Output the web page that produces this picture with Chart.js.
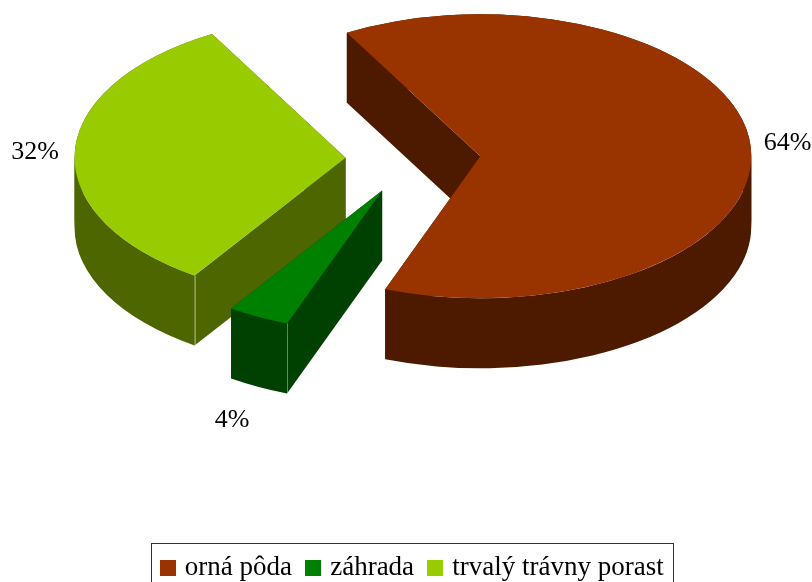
<!DOCTYPE html>
<html>
<head>
<meta charset="utf-8">
<style>html,body{margin:0;padding:0;background:#fff}canvas{display:block}</style>
<script src="https://cdn.jsdelivr.net/npm/chart.js@4"></script>
</head>
<body>
<canvas id="c" width="812" height="582"></canvas>
<script>
const categories = ['orná pôda', 'záhrada', 'trvalý trávny porast'];
const values = [63.9, 3.7, 32.4];
const percentLabels = ['64%', '4%', '32%'];
const topColors = ['#993300', '#008000', '#99CC00'];
const sideColors = ['#4D1A00', '#004000', '#4D6600'];
const labelAnchors = [[787.5, 143], [232, 420], [35, 152]];
const paintOrder = [0, 2, 1];

const RADIUS = 271, SQUASH = 0.524, DEPTH = 70, EXPLODE = 67.5, CENTER_X = 413, CENTER_Y = 159;
const FONT = '"Liberation Serif", "Times New Roman", serif';
const LABEL_SIZE = 26, LEGEND_SIZE = 27;

function swatch(color) {
  const s = document.createElement('canvas');
  s.width = 16; s.height = 16;
  const g = s.getContext('2d');
  g.fillStyle = color; g.fillRect(0, 0, 16, 16);
  return s;
}

const pie3d = {
  id: 'pie3d',
  beforeDatasetsDraw(chart) {
    const ctx = chart.ctx, arcs = chart.getDatasetMeta(0).data;
    paintOrder.forEach(i => {
      const a = arcs[i], mid = (a.startAngle + a.endAngle) / 2;
      const r = a.outerRadius, ry = r * SQUASH;
      const cx = CENTER_X + Math.cos(mid) * EXPLODE;
      const cy = CENTER_Y + Math.sin(mid) * EXPLODE * SQUASH;
      const rim = t => [cx + Math.cos(t) * r, cy + Math.sin(t) * ry];
      const quad = t => {
        const [x, y] = rim(t);
        ctx.beginPath();
        ctx.moveTo(cx, cy); ctx.lineTo(x, y);
        ctx.lineTo(x, y + DEPTH); ctx.lineTo(cx, cy + DEPTH);
        ctx.closePath(); ctx.fill();
      };
      ctx.save();
      ctx.fillStyle = sideColors[i];
      quad(a.startAngle); quad(a.endAngle);
      // outer wall, split where the rim turns vertical so the sweep has no notch
      const stops = [a.startAngle];
      for (let k = Math.ceil(a.startAngle / Math.PI); k * Math.PI < a.endAngle; k++) stops.push(k * Math.PI);
      stops.push(a.endAngle);
      for (let s = 0; s + 1 < stops.length; s++) {
        ctx.beginPath();
        ctx.ellipse(cx, cy, r, ry, 0, stops[s], stops[s + 1]);
        ctx.ellipse(cx, cy + DEPTH, r, ry, 0, stops[s + 1], stops[s], true);
        ctx.closePath(); ctx.fill();
      }
      if (i !== 0) {
        const [x, y] = rim(a.startAngle);
        ctx.strokeStyle = 'rgba(255,255,255,0.35)';
        ctx.lineWidth = 1;
        ctx.beginPath();
        ctx.moveTo(Math.round(x) + 0.5, y); ctx.lineTo(Math.round(x) + 0.5, y + DEPTH);
        ctx.stroke();
      }
      ctx.fillStyle = topColors[i];
      ctx.beginPath();
      ctx.moveTo(cx, cy);
      ctx.ellipse(cx, cy, r, ry, 0, a.startAngle, a.endAngle);
      ctx.closePath(); ctx.fill();
      ctx.restore();
    });
    return false;
  },
  afterDraw(chart) {
    const ctx = chart.ctx, boxes = chart.legend.legendHitBoxes;
    ctx.save();
    ctx.fillStyle = '#000';
    ctx.font = LABEL_SIZE + 'px ' + FONT;
    ctx.textAlign = 'center';
    ctx.textBaseline = 'middle';
    percentLabels.forEach((t, i) => ctx.fillText(t, labelAnchors[i][0], labelAnchors[i][1]));
    const first = boxes[0], last = boxes[boxes.length - 1];
    const left = first.left - 13.5, right = last.left + last.width + 9.5, top = first.top - 11;
    ctx.strokeStyle = '#333';
    ctx.lineWidth = 1;
    ctx.strokeRect(Math.round(left) + 0.5, Math.round(top) + 0.5, Math.round(right - left), 60);
    ctx.restore();
  }
};

new Chart(document.getElementById('c'), {
  type: 'pie',
  data: {
    labels: categories,
    datasets: [{ data: values, backgroundColor: topColors, borderWidth: 0 }]
  },
  options: {
    responsive: false,
    animation: false,
    rotation: -29.5,
    radius: RADIUS,
    layout: { padding: { left: 16, bottom: -9 } },
    plugins: {
      tooltip: { enabled: false },
      legend: {
        position: 'bottom',
        labels: {
          font: { family: FONT, size: LEGEND_SIZE },
          color: '#000',
          usePointStyle: true,
          pointStyleWidth: 7,
          boxHeight: 16,
          padding: 17.6,
          generateLabels(chart) {
            return Chart.overrides.pie.plugins.legend.labels.generateLabels(chart)
              .map((it, i) => Object.assign(it, { pointStyle: swatch(topColors[i]) }));
          }
        }
      }
    }
  },
  plugins: [pie3d]
});
</script>
</body>
</html>
